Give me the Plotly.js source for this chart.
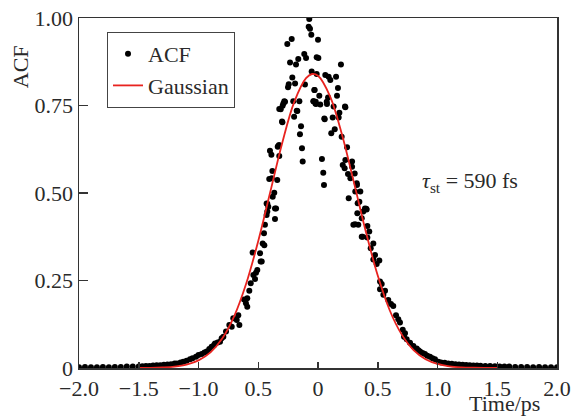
<!DOCTYPE html>
<html>
<head>
<meta charset="utf-8">
<script src="https://cdn.plot.ly/plotly-3.0.1.min.js"></script>
<style>html,body{margin:0;padding:0;background:#fff;}#chart{width:574px;height:416px;}</style>
</head>
<body>
<div id="chart"></div>
<script>
// ACF measurement points (Time in ps, normalised ACF)
const acfTime = [
-2.00,-1.95,-1.90,-1.85,-1.80,-1.75,-1.70,-1.65,-1.60,-1.55,
-1.50,-1.47,-1.44,-1.41,-1.38,-1.35,-1.32,-1.29,-1.26,-1.23,
-1.20,-1.18,-1.15,-1.127,-1.10,-1.071,-1.05,-1.021,-1.00,-0.973,
-0.95,-0.931,-0.91,-0.89,-0.87,-0.862,-0.84,-0.82,-0.806,-0.792,
-0.77,-0.742,-0.722,-0.709,-0.68,-0.667,-0.658,-0.619,-0.603,-0.592,
-0.592,-0.575,-0.563,-0.547,-0.541,-0.527,-0.519,-0.508,-0.485,-0.48,
-0.471,-0.463,-0.452,-0.449,-0.444,-0.43,-0.43,-0.424,-0.424,-0.416,
-0.408,-0.402,-0.39,-0.387,-0.382,-0.379,-0.366,-0.36,-0.36,-0.351,
-0.341,-0.337,-0.332,-0.326,-0.324,-0.324,-0.312,-0.301,-0.298,-0.296,
-0.29,-0.282,-0.276,-0.257,-0.251,-0.245,-0.234,-0.22,-0.215,-0.207,
-0.20,-0.192,-0.184,-0.178,-0.173,-0.165,-0.156,-0.151,-0.142,-0.134,
-0.128,-0.115,-0.109,-0.10,-0.078,-0.073,-0.067,-0.056,-0.053,-0.039,
-0.036,-0.031,-0.028,-0.022,-0.019,-0.017,-0.011,-0.011,0.0,0.003,
0.011,0.019,0.033,0.044,0.05,0.053,0.056,0.061,0.073,0.075,
0.084,0.089,0.103,0.111,0.123,0.131,0.14,0.151,0.159,0.167,
0.173,0.179,0.192,0.198,0.207,0.223,0.226,0.229,0.229,0.243,
0.251,0.257,0.271,0.285,0.285,0.296,0.307,0.31,0.312,0.324,
0.326,0.329,0.332,0.337,0.346,0.354,0.366,0.366,0.374,0.379,
0.393,0.404,0.407,0.413,0.413,0.429,0.441,0.463,0.463,0.477,
0.491,0.513,0.519,0.519,0.533,0.547,0.561,0.588,0.611,0.63,
0.653,0.672,0.686,0.709,0.72,0.728,0.742,0.77,0.798,0.826,
0.84,0.854,0.875,0.895,0.915,0.937,0.958,0.979,1.007,1.03,
1.06,1.09,1.12,1.15,1.18,1.21,1.24,1.27,1.30,1.33,
1.36,1.40,1.44,1.48,1.52,1.56,1.60,1.65,1.70,1.75,
1.80,1.85,1.90,1.95,2.00
];
const acfValue = [
0.002,0.003,0.002,0.002,0.003,0.002,0.003,0.003,0.004,0.004,
0.004,0.005,0.006,0.006,0.007,0.008,0.008,0.009,0.010,0.011,
0.013,0.013,0.016,0.018,0.021,0.025,0.028,0.032,0.037,0.040,
0.044,0.047,0.054,0.061,0.066,0.070,0.073,0.075,0.085,0.089,
0.104,0.123,0.118,0.142,0.137,0.151,0.123,0.196,0.185,0.199,
0.175,0.221,0.242,0.330,0.266,0.254,0.272,0.280,0.328,0.304,
0.304,0.356,0.385,0.351,0.409,0.437,0.470,0.447,0.469,0.461,
0.540,0.621,0.609,0.542,0.563,0.489,0.501,0.426,0.456,0.456,
0.537,0.632,0.634,0.637,0.606,0.740,0.739,0.704,0.702,0.749,
0.756,0.762,0.761,0.926,0.802,0.811,0.873,0.940,0.830,0.762,
0.718,0.813,0.867,0.735,0.734,0.883,0.762,0.668,0.691,0.628,
0.590,0.897,0.810,0.886,0.975,0.997,0.969,0.952,0.847,0.762,
0.762,0.794,0.794,0.756,0.761,0.754,0.840,0.888,0.938,0.886,
0.778,0.753,0.597,0.558,0.523,0.713,0.711,0.837,0.761,0.754,
0.773,0.832,0.823,0.671,0.716,0.747,0.682,0.832,0.778,0.800,
0.716,0.729,0.867,0.661,0.580,0.571,0.747,0.594,0.745,0.631,
0.554,0.485,0.542,0.590,0.575,0.409,0.556,0.411,0.504,0.528,
0.523,0.442,0.471,0.409,0.475,0.504,0.428,0.375,0.375,0.447,
0.456,0.455,0.453,0.406,0.373,0.390,0.342,0.356,0.310,0.323,
0.297,0.307,0.247,0.225,0.240,0.209,0.221,0.194,0.183,0.177,
0.151,0.139,0.130,0.109,0.089,0.099,0.082,0.072,0.063,0.056,
0.051,0.047,0.043,0.040,0.035,0.032,0.028,0.025,0.018,0.016,
0.015,0.013,0.012,0.011,0.010,0.009,0.0085,0.008,0.0075,0.007,
0.0065,0.006,0.0058,0.005,0.0045,0.004,0.004,0.003,0.003,0.003,
0.002,0.003,0.002,0.002,0.002
];

// Gaussian fit curve
const fitTime = [-1.5,-1.4,-1.3,-1.2,-1.1,-1.0,-0.9,-0.8,-0.7,-0.6,-0.5,-0.4,-0.3,-0.2,-0.1,-0.05,0.0,0.1,0.2,0.3,0.4,0.5,0.6,0.7,0.8,0.9,1.0,1.1,1.2,1.3,1.4,1.5];
const fitValue = [0.0,0.0002,0.0015,0.0040,0.0097,0.0217,0.0446,0.0849,0.149,0.242,0.363,0.502,0.642,0.759,0.828,0.840,0.835,0.777,0.668,0.531,0.390,0.264,0.165,0.096,0.051,0.025,0.0115,0.0048,0.0019,0.0007,0.0002,0.0];

const xTickVals = [-2,-1.5,-1,-0.5,0,0.5,1,1.5,2];
const xTickText = ['\u22122.0','\u22121.5','\u22121.0','0.5','0','0.5','1.0','1.5','2.0'];
const yTickVals = [0,0.25,0.5,0.75,1];
const yTickText = ['0','0.25','0.50','0.75','1.00'];

const FONT = 'Liberation Serif, Times New Roman, serif';
const TXT = '#2a2a2a';
const FS = 22;

const traces = [
  {x: acfTime, y: acfValue, type: 'scatter', mode: 'markers', name: 'ACF',
   marker: {color: '#000', size: 6}},
  {x: fitTime, y: fitValue, type: 'scatter', mode: 'lines', name: 'Gaussian',
   line: {color: '#e8231f', width: 1.8, shape: 'spline', smoothing: 1}}
];

const axisCommon = {
  showline: true, linecolor: '#333', linewidth: 1.5, mirror: true,
  ticks: 'inside', tickcolor: '#333', tickwidth: 1.5,
  showgrid: false, zeroline: false,
  tickfont: {family: FONT, size: FS, color: TXT}
};

const layout = {
  width: 574, height: 416,
  margin: {l: 79, r: 17, t: 18, b: 48},
  paper_bgcolor: '#fff', plot_bgcolor: '#fff',
  font: {family: FONT, size: FS, color: TXT},
  showlegend: true,
  legend: {x: 0.0586, y: 0.96, xanchor: 'left', yanchor: 'top',
           bordercolor: '#444', borderwidth: 1, bgcolor: '#fff',
           font: {family: FONT, size: FS, color: TXT}},
  xaxis: Object.assign({}, axisCommon, {range: [-2, 2], tickvals: xTickVals, ticktext: xTickText, ticklen: 6}),
  yaxis: Object.assign({}, axisCommon, {range: [0, 1], tickvals: yTickVals, ticktext: yTickText, ticklen: 9}),
  annotations: [
    {text: 'ACF', xref: 'paper', yref: 'paper', x: -0.123, y: 0.86, textangle: -90,
     xanchor: 'center', yanchor: 'middle',
     showarrow: false, font: {family: FONT, size: FS, color: TXT}},
    {text: 'Time/ps', xref: 'paper', yref: 'paper', x: 0.891, y: -0.1, 
     xanchor: 'center', yanchor: 'middle',
     showarrow: false, font: {family: FONT, size: FS, color: TXT}},
    {text: '<i>\u03c4</i><sub>st</sub> = 590 fs', xref: 'paper', yref: 'paper', x: 0.818, y: 0.531,
     xanchor: 'center', yanchor: 'middle',
     showarrow: false, font: {family: FONT, size: FS, color: TXT}}
  ]
};

Plotly.newPlot('chart', traces, layout, {displayModeBar: false, staticPlot: true});
</script>
</body>
</html>
